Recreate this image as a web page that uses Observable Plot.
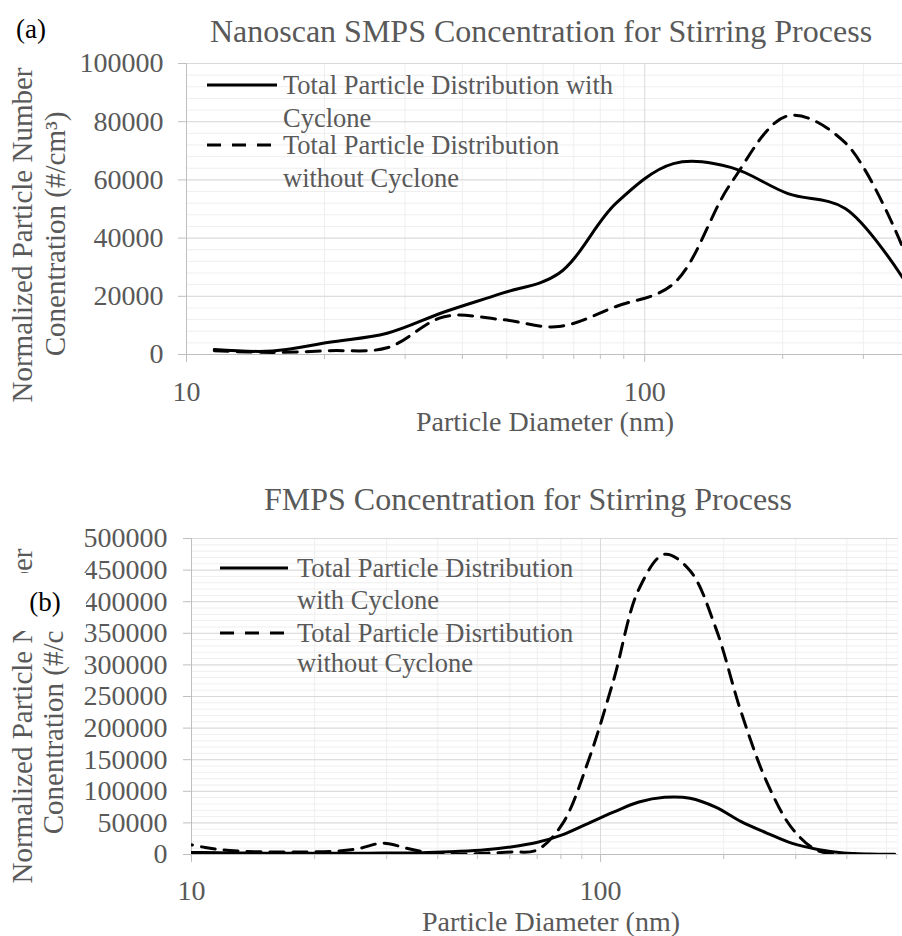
<!DOCTYPE html>
<html>
<head>
<meta charset="utf-8">
<script src="https://cdn.jsdelivr.net/npm/d3@7"></script>
<script src="https://cdn.jsdelivr.net/npm/@observablehq/plot@0.6"></script>
<style>
  body { margin: 0; background: #fff; }
  #wrap { position: relative; width: 902px; height: 936px; overflow: hidden; background: #fff;
          font-family: "Liberation Serif", "Times New Roman", serif; color: #595959; }
  .abs { position: absolute; white-space: nowrap; line-height: 1; }
</style>
</head>
<body>
<div id="wrap"></div>
<script>
// ---------- Data: (a) Nanoscan SMPS ----------
const smpsDiameter = [11.5, 15.4, 20.5, 27.4, 36.5, 48.7, 64.9, 86.6, 115.5, 154.0, 205.4, 273.8, 365.2];
const smpsWithCyclone = [1700, 1200, 4200, 7300, 14600, 21000, 27800, 52000, 65600, 64300, 55300, 50200, 26500];
const smpsWithoutCyclone = [1300, 700, 1300, 2300, 13000, 12000, 9600, 16500, 24300, 58700, 82000, 72800, 37000];

// ---------- Data: (b) FMPS ----------
const fmpsDiameter = [9.31, 10.8, 12.4, 14.3, 16.5, 19.1, 22.1, 25.5, 29.4, 34.0, 39.2, 45.3, 52.3, 60.4, 69.8,
  80.6, 93.1, 107.5, 124.1, 143.3, 165.5, 191.1, 220.7, 254.8, 294.3, 339.8, 392.4, 453.2, 523.3];
const fmpsWithCyclone = [3500, 3000, 2500, 2200, 2000, 2000, 2000, 2000, 2200, 2500, 3500, 5000, 7500, 12000, 19000,
  31000, 49000, 67000, 83000, 90500, 89000, 75000, 52000, 34000, 17500, 8000, 2500, 800, 500];
const fmpsWithoutCyclone = [20000, 11000, 6500, 4500, 4000, 4000, 5000, 9000, 18000, 9000, 1500, 500, 2000, 4000, 7000,
  48000, 146000, 275000, 420000, 475000, 449000, 359000, 225000, 115000, 41000, 6000, 1500, 0, 0];

// ---------- Tick labels ----------
const xMajorTicks = [10, 100];
const xMinorTicksA = [20, 30, 40, 50, 60, 70, 80, 90, 200, 300];
const xMinorTicksB = [20, 30, 40, 50, 60, 70, 80, 90, 200, 300, 400, 500];
const yTicksA = [0, 20000, 40000, 60000, 80000, 100000];
const yTicksB = [0, 50000, 100000, 150000, 200000, 250000, 300000, 350000, 400000, 450000, 500000];

const legendA = ["Total Particle Distribution with\nCyclone", "Total Particle Distribution\nwithout Cyclone"];
const legendB = ["Total Particle Distribution\nwith Cyclone", "Total Particle Disrtibution\nwithout Cyclone"];

// ---------- helpers ----------
const wrap = document.getElementById("wrap");
const FONT = '"Liberation Serif", "Times New Roman", serif';
const GRID_MAJOR = "#d9d9d9", GRID_MINOR = "#efefef", AXIS = "#bfbfbf", TEXT = "#595959";

function label(txt, cx, cy, size, opts = {}) {
  const el = document.createElement("div");
  el.className = "abs";
  el.textContent = txt;
  el.style.fontSize = size + "px";
  el.style.color = opts.color || TEXT;
  el.style.left = cx + "px";
  el.style.top = cy + "px";
  const ax = opts.anchor === "start" ? "0%" : opts.anchor === "end" ? "-100%" : "-50%";
  el.style.transform = `translate(${ax},-50%)` + (opts.rotate ? ` rotate(${opts.rotate}deg)` : "");
  wrap.appendChild(el);
  return el;
}

function sample(x1, x2, y, dashed) {
  const ns = "http://www.w3.org/2000/svg";
  const s = document.createElementNS(ns, "svg");
  s.setAttribute("width", x2 - x1);
  s.setAttribute("height", 8);
  s.style.position = "absolute";
  s.style.left = x1 + "px";
  s.style.top = (y - 4) + "px";
  const l = document.createElementNS(ns, "line");
  l.setAttribute("x1", 0); l.setAttribute("x2", x2 - x1);
  l.setAttribute("y1", 4); l.setAttribute("y2", 4);
  l.setAttribute("stroke", "black");
  l.setAttribute("stroke-width", 3);
  if (dashed) l.setAttribute("stroke-dasharray", "14,11");
  s.appendChild(l);
  wrap.appendChild(s);
}

function legendBlock(lines, x, y, size, gap) {
  lines.split("\n").forEach((t, i) => label(t, x, y + i * gap, size, {anchor: "start"}));
}

function panel({rows, width, height, top, margin, xDomain, yDomain, yMinorStep, yTicks, xMinor, tickPadX, tickPadY, clip}) {
  const yMinor = d3.range(yDomain[0], yDomain[1] + 1, yMinorStep);
  const svg = Plot.plot({
    width, height,
    marginLeft: margin[3], marginRight: margin[1], marginTop: margin[0], marginBottom: margin[2],
    style: {fontFamily: FONT, fontSize: "28px", color: TEXT, background: "transparent", overflow: "visible"},
    x: {type: "log", domain: xDomain},
    y: {domain: yDomain},
    marks: [
      Plot.gridY(yMinor, {stroke: GRID_MINOR, strokeOpacity: 1}),
      Plot.gridX(xMinor, {stroke: GRID_MINOR, strokeOpacity: 1}),
      Plot.gridY(yTicks, {stroke: GRID_MAJOR, strokeOpacity: 1}),
      Plot.gridX(xMajorTicks, {stroke: GRID_MAJOR, strokeOpacity: 1}),
      Plot.ruleX([xDomain[0]], {stroke: AXIS}),
      Plot.ruleY([0], {stroke: AXIS}),
      Plot.axisY(yTicks, {tickSize: 8, tickPadding: tickPadY, stroke: AXIS, fill: TEXT, label: null, tickFormat: d => String(d)}),
      Plot.axisX(xMinor, {tickSize: 5, tickFormat: () => "", stroke: AXIS, label: null}),
      Plot.axisX(xMajorTicks, {tickSize: 8, tickPadding: tickPadX, stroke: AXIS, fill: TEXT, label: null, tickFormat: d => String(d)}),
      Plot.line(rows, {x: "d", y: "with", stroke: "black", strokeWidth: 3, curve: "catmull-rom", clip}),
      Plot.line(rows, {x: "d", y: "without", stroke: "black", strokeWidth: 3, strokeDasharray: "14,9", curve: "catmull-rom", clip})
    ]
  });
  svg.style.position = "absolute";
  svg.style.left = "0px";
  svg.style.top = top + "px";
  wrap.appendChild(svg);
}

// ---------- Panel (a) ----------
const smpsRows = smpsDiameter.map((d, i) => ({d, with: smpsWithCyclone[i], without: smpsWithoutCyclone[i]}));
panel({
  rows: smpsRows, width: 902, height: 440, top: 0, margin: [63, 0, 86, 186],
  xDomain: [10, 365.2], yDomain: [0, 100000], yMinorStep: 4000, yTicks: yTicksA, xMinor: xMinorTicksA,
  tickPadX: 19, tickPadY: 15, clip: true
});

// ---------- Panel (b) ----------
const fmpsRows = fmpsDiameter.map((d, i) => ({d, with: fmpsWithCyclone[i], without: fmpsWithoutCyclone[i]}));
panel({
  rows: fmpsRows, width: 902, height: 496, top: 440, margin: [98, 4, 82, 191],
  xDomain: [10, 535], yDomain: [0, 500000], yMinorStep: 10000, yTicks: yTicksB, xMinor: xMinorTicksB,
  tickPadX: 18, tickPadY: 16, clip: true
});

// ---------- Texts panel (a) ----------
label("(a)", 31, 29, 27, {color: "#000"});
label("Nanoscan SMPS Concentration for Stirring Process", 541, 31, 32);
label("Normalized Particle Number", 22, 235, 29, {rotate: -90});
label("Conentration (#/cm³)", 55, 234, 29, {rotate: -90});
label("Particle Diameter (nm)", 545, 422, 28);
sample(207, 277, 85, false);
legendBlock(legendA[0], 283, 85, 26.5, 33);
sample(207, 277, 145, true);
legendBlock(legendA[1], 283, 145, 26.5, 33);

// ---------- Texts panel (b) ----------
label("FMPS Concentration for Stirring Process", 528, 499, 32);
label("Normalized Particle Number", 22, 716, 29, {rotate: -90});
label("Conentration (#/cm³)", 53, 712, 29, {rotate: -90});
label("Particle Diameter (nm)", 551, 922, 28);
sample(220, 288, 568, false);
legendBlock(legendB[0], 297, 568, 26.5, 32);
sample(220, 288, 633, true);
legendBlock(legendB[1], 297, 633, 26.5, 30);

// (b) label box covering part of the axis title
const box = document.createElement("div");
box.className = "abs";
Object.assign(box.style, {left: "4px", top: "573px", width: "82px", height: "58px", background: "#fff",
  display: "flex", alignItems: "center", justifyContent: "center", fontSize: "27px", color: "#000"});
box.textContent = "(b)";
wrap.appendChild(box);
</script>
</body>
</html>
